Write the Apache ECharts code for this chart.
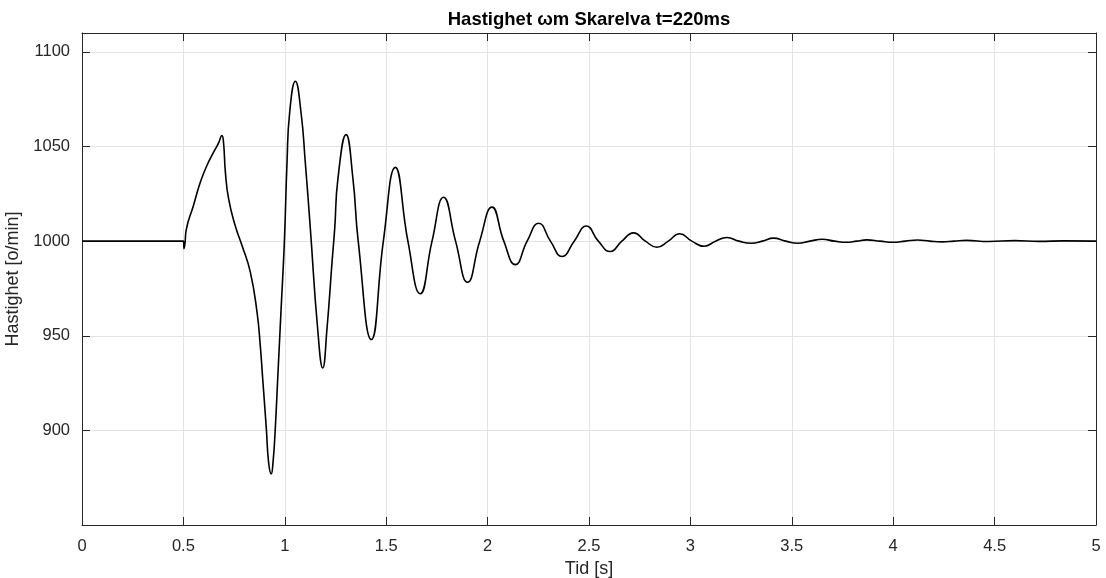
<!DOCTYPE html>
<html>
<head>
<meta charset="utf-8">
<title>Hastighet Skarelva</title>
<script src="https://cdn.jsdelivr.net/npm/echarts@6/dist/echarts.min.js"></script>
<style>
    html, body { margin: 0; padding: 0; background: #fff; }
    #chart { width: 1106px; height: 578px; }
</style>
</head>
<body>
<div id="chart"></div>
<script>
// time [s] (peaks, troughs, crossings)
var timeS = [
    0, 0.5, 0.503, 0.508, 0.514, 0.55, 0.583, 0.616, 0.649, 0.672, 0.69, 0.698, 0.707, 0.723, 0.756,
    0.789, 0.83, 0.863, 0.879, 0.891, 0.909, 0.92, 0.933, 0.942, 0.953, 0.965, 0.981, 0.998,
    1.011, 1.024, 1.052, 1.08, 1.101, 1.126, 1.162, 1.187, 1.208, 1.233, 1.246, 1.262, 1.302,
    1.336, 1.362, 1.427, 1.486, 1.545, 1.607, 1.668, 1.726, 1.783, 1.842, 1.901, 1.961, 2.022,
    2.08, 2.137, 2.195, 2.252, 2.31, 2.367, 2.427, 2.487, 2.546, 2.605, 2.662, 2.72, 2.778,
    2.835, 2.891, 2.947, 3.007, 3.068, 3.124, 3.18, 3.24, 3.3, 3.355, 3.41, 3.47, 3.53, 3.59,
    3.65, 3.71, 3.77, 3.82, 3.87, 3.935, 4.0, 4.06, 4.12, 4.18, 4.24, 4.3, 4.36, 4.47, 4.6,
    4.72, 4.84, 5.0
];

// speed [o/min]
var speedRpm = [
    1000, 1000, 996, 999, 1006, 1019, 1031, 1040, 1047, 1051.5, 1055.8, 1052, 1036.5, 1022.3, 1008,
    997.7, 983.6, 962.5, 944.9, 927.3, 900.8, 883.2, 877, 883.2, 900.8, 927.3, 962.5, 1000,
    1041.7, 1068, 1084.5, 1068, 1041.7, 1006.5, 953.7, 933, 953.7, 989, 1006.5, 1033, 1056.3,
    1033, 1000, 948, 1000, 1039, 1000, 972.2, 1000, 1023.2, 1000, 978.3, 1000, 1018,
    1000, 987.6, 1000, 1009.5, 1000, 991.9, 1000, 1008, 1000, 994.5, 1000, 1004.4, 1000,
    996.8, 1000, 1003.9, 1000, 997.3, 1000, 1001.9, 1000, 998.9, 1000, 1001.6, 1000, 998.9, 1000,
    1001, 1000, 999.4, 1000, 1000.7, 1000, 999.4, 1000, 1000.6, 1000, 999.6, 1000, 1000.4, 999.8, 1000.3,
    999.9, 1000.15, 1000
];

// axis ticks
var xTicks = { min: 0, max: 5, step: 0.5 };
var yTicks = { min: 850, max: 1110, step: 50 };

var axisColor = '#262626';
var gridColor = '#e3e3e3';
var fontName = '"Liberation Sans", Arial, sans-serif';

function buildData() {
    var out = [];
    for (var i = 0; i < timeS.length; i++) {
        out.push([timeS[i], speedRpm[i]]);
    }
    return out;
}

// box around the plot, matlab style: ticks inside on all four sides
function boxAxis(base, isMain) {
    var axis = {
        type: 'value',
        min: base.min,
        max: base.max,
        interval: base.step,
        axisLine: { show: true, onZero: false, lineStyle: { color: axisColor, width: 1 } },
        axisTick: { show: true, inside: true, length: 8, lineStyle: { color: axisColor } },
        splitLine: { show: false },
        axisLabel: { show: false }
    };
    if (isMain) {
        axis.splitLine = { show: true, lineStyle: { color: gridColor, width: 1 } };
        axis.axisLabel = {
            show: true,
            color: axisColor,
            fontFamily: fontName,
            fontSize: 16.5,
            margin: 12
        };
    }
    return axis;
}

var chart = echarts.init(document.getElementById('chart'));

var xMain = boxAxis(xTicks, true);
xMain.position = 'bottom';
xMain.axisLabel.margin = 13;
xMain.name = 'Tid [s]';
xMain.nameLocation = 'middle';
xMain.nameGap = 35;
xMain.nameTextStyle = { color: axisColor, fontFamily: fontName, fontSize: 18 };

var xTop = boxAxis(xTicks, false);
xTop.position = 'top';

var yMain = boxAxis(yTicks, true);
yMain.position = 'left';
yMain.axisLabel.formatter = function (v) {
    return (v === 850 || v === 1110) ? '' : String(v);
};
yMain.name = 'Hastighet [o/min]';
yMain.nameLocation = 'middle';
yMain.nameGap = 54;
yMain.nameTextStyle = { color: axisColor, fontFamily: fontName, fontSize: 18 };

var yRight = boxAxis(yTicks, false);
yRight.position = 'right';

var option = {
    animation: false,
    backgroundColor: '#ffffff',
    title: {
        text: 'Hastighet \u03c9m Skarelva t=220ms',
        left: 589,
        top: 10,
        padding: 0,
        textAlign: 'center',
        textStyle: { color: '#000', fontFamily: fontName, fontSize: 18.5, fontWeight: 'bold' }
    },
    grid: { left: 82, right: 10, top: 33, bottom: 53, outerBoundsMode: 'none' },
    xAxis: [xMain, xTop],
    yAxis: [yMain, yRight],
    series: [
        {
            type: 'line',
            xAxisIndex: 0,
            yAxisIndex: 0,
            data: buildData(),
            showSymbol: false,
            smooth: 0.5,
            lineStyle: { color: '#000', width: 1.6 }
        }
    ]
};

chart.setOption(option);
</script>
</body>
</html>
